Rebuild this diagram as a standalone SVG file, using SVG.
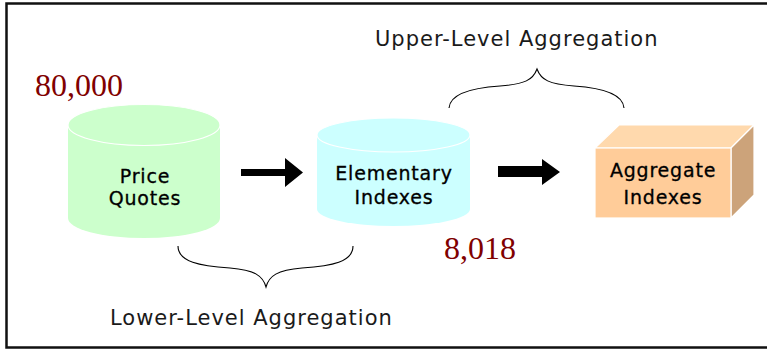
<svg xmlns="http://www.w3.org/2000/svg" width="767" height="350" viewBox="0 0 767 350">
  <style>
    .frame { fill: #ffffff; stroke: #111111; stroke-width: 2.5; }
    .lbl { font-family: "DejaVu Sans", Verdana, sans-serif; font-size: 19px; letter-spacing: 0.8px; fill: #000000; stroke: #000000; stroke-width: 0.3; text-anchor: middle; }
    .cap { font-family: "DejaVu Sans", Verdana, sans-serif; font-size: 21px; letter-spacing: 1px; fill: #1a1a1a; }
    .num { font-family: "Liberation Serif", "Times New Roman", serif; font-size: 32px; fill: #800000; }
    .brace { fill: none; stroke: #000000; stroke-width: 1.1; }
    .arrow { fill: #000000; }
    .edge { stroke: #ffffff; stroke-width: 1.2; }
  </style>

  <rect class="frame" x="6.5" y="3.5" width="775" height="344"/>

  <!-- counts -->
  <text class="num" x="35" y="96">80,000</text>
  <text class="num" x="444" y="259">8,018</text>

  <!-- group captions and braces -->
  <g id="upper-level">
    <text class="cap" x="375" y="46">Upper-Level Aggregation</text>
    <path class="brace" d="M449,108 C450,94 470,88 500,86 C525,84 533,80 537,69 C541,80 549,84 574,86 C604,88 623,94 624,108"/>
  </g>
  <g id="lower-level">
    <text class="cap" x="110" y="325">Lower-Level Aggregation</text>
    <path class="brace" d="M178,246 C178,262 200,266 230,268 C255,270 263,276 266,287 C269,276 277,270 302,268 C332,266 353,262 353,246"/>
  </g>

  <!-- price quotes cylinder -->
  <g id="price-quotes">
    <path d="M68,125 L68,218 A76,20 0 0 0 220,218 L220,125 Z" fill="#ccffcc"/>
    <ellipse cx="144" cy="125" rx="76" ry="20.5" fill="#ccffcc" class="edge"/>
    <text class="lbl" x="145" y="183">Price</text>
    <text class="lbl" x="145" y="205">Quotes</text>
  </g>

  <!-- elementary indexes cylinder -->
  <g id="elementary-indexes">
    <path d="M317,135 L317,209 A76.5,17 0 0 0 470,209 L470,135 Z" fill="#ccffff"/>
    <ellipse cx="393.5" cy="135" rx="76.5" ry="17" fill="#ccffff" class="edge"/>
    <text class="lbl" x="394" y="180">Elementary</text>
    <text class="lbl" x="394" y="204">Indexes</text>
  </g>

  <!-- aggregate indexes box -->
  <g id="aggregate-indexes">
    <polygon points="595,148 619,125 754,125 731,148" fill="#ffd9ad" class="edge"/>
    <polygon points="731,148 754,125 754,195 731,218" fill="#cca37a" class="edge"/>
    <rect x="595" y="148" width="136" height="70" fill="#ffcc99" class="edge"/>
    <text class="lbl" x="663" y="177">Aggregate</text>
    <text class="lbl" x="663" y="204">Indexes</text>
  </g>

  <!-- flow arrows -->
  <g id="connectors">
    <polygon class="arrow" points="241,169 285,169 285,158 303,172.5 285,187 285,176 241,176"/>
    <polygon class="arrow" points="498,166 542,166 542,159 560,172 542,185 542,177 498,177"/>
  </g>
</svg>
